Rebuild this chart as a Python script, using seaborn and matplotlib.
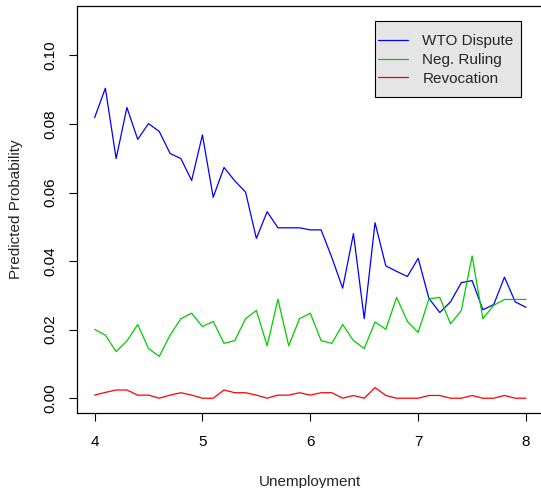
import numpy as np
import pandas as pd
import matplotlib
matplotlib.use("Agg")
import matplotlib.pyplot as plt
from matplotlib.patches import Rectangle
import seaborn as sns

# Unemployment grid and predicted probabilities for each outcome
unemployment = [4.0, 4.1, 4.2, 4.3, 4.4, 4.5, 4.6, 4.7, 4.8, 4.9,
                5.0, 5.1, 5.2, 5.3, 5.4, 5.5, 5.6, 5.7, 5.8, 5.9,
                6.0, 6.1, 6.2, 6.3, 6.4, 6.5, 6.6, 6.7, 6.8, 6.9,
                7.0, 7.1, 7.2, 7.3, 7.4, 7.5, 7.6, 7.7, 7.8, 7.9, 8.0]

wto_dispute = [0.0818, 0.0904, 0.0699, 0.0848, 0.0755, 0.0801, 0.0778, 0.0714, 0.0699, 0.0635,
               0.0768, 0.0586, 0.0673, 0.0634, 0.0601, 0.0466, 0.0544, 0.0497, 0.0497, 0.0497,
               0.0491, 0.0491, 0.0410, 0.0321, 0.0480, 0.0232, 0.0512, 0.0386, 0.0370, 0.0355,
               0.0408, 0.0291, 0.0250, 0.0281, 0.0337, 0.0343, 0.0258, 0.0273, 0.0353, 0.0281,
               0.0265]

neg_ruling = [0.0201, 0.0184, 0.0136, 0.0167, 0.0215, 0.0145, 0.0122, 0.0184, 0.0232, 0.0248,
              0.0209, 0.0224, 0.0160, 0.0168, 0.0232, 0.0256, 0.0153, 0.0289, 0.0153, 0.0232,
              0.0248, 0.0168, 0.0160, 0.0215, 0.0168, 0.0145, 0.0222, 0.0201, 0.0294, 0.0224,
              0.0192, 0.0290, 0.0294, 0.0217, 0.0256, 0.0415, 0.0232, 0.0271, 0.0288, 0.0288,
              0.0288]

revocation = [0.0009, 0.0017, 0.0024, 0.0024, 0.0009, 0.0009, 0.0000, 0.0009, 0.0016, 0.0009,
              0.0000, 0.0000, 0.0024, 0.0016, 0.0016, 0.0009, 0.0000, 0.0009, 0.0009, 0.0016,
              0.0009, 0.0016, 0.0016, 0.0000, 0.0008, 0.0000, 0.0031, 0.0008, 0.0000, 0.0000,
              0.0000, 0.0008, 0.0008, 0.0000, 0.0000, 0.0008, 0.0000, 0.0000, 0.0008, 0.0000,
              0.0000]

series_names = ["WTO Dispute", "Neg. Ruling", "Revocation"]
series_colors = ["#0000ff", "#00cc00", "#ff0000"]
x_ticks = [4, 5, 6, 7, 8]
y_ticks = [0.00, 0.02, 0.04, 0.06, 0.08, 0.10]

df = pd.concat([
    pd.DataFrame({"Unemployment": unemployment, "prob": vals, "outcome": name})
    for name, vals in zip(series_names, [wto_dispute, neg_ruling, revocation])
], ignore_index=True)

sns.set_style("white")
plt.rcParams["font.family"] = ["Liberation Sans", "DejaVu Sans"]

FS = 11
W, H = 541, 488
# plot region in pixels: left, bottom, right, top (right edge runs past the canvas)
L, B, R, T = 77.3, 413.3, 543.3, 6.0

fig = plt.figure(figsize=(W / 100, H / 100), dpi=100)
ax = fig.add_axes([L / W, (H - B) / H, (R - L) / W, (B - T) / H])

sns.lineplot(data=df, x="Unemployment", y="prob", hue="outcome",
             hue_order=series_names, palette=series_colors,
             linewidth=0.9, ax=ax, legend=False)

ax.set_xlim(3.84, 8.16)
ax.set_ylim(-0.0044, 0.1144)
ax.set_xticks(x_ticks)
ax.set_xticklabels([str(t) for t in x_ticks])
ax.set_yticks(y_ticks)
ax.set_yticklabels([f"{t:.2f}" for t in y_ticks], rotation=90, va="center")

for s in ax.spines.values():
    s.set_color("black")
    s.set_linewidth(0.9)

ax.tick_params(axis="both", direction="out", length=5.5, width=0.8,
               colors="black", labelsize=FS)
ax.tick_params(axis="x", bottom=True, pad=10)
ax.tick_params(axis="y", left=True, pad=9)

ax.set_xlabel("Unemployment", fontsize=FS, labelpad=18.5)
ax.set_ylabel("Predicted Probability", fontsize=FS, labelpad=14.5)


def px_to_axes(px, py):
    return (px - L) / (R - L), (B - py) / (B - T)


# legend box: grey fill with black border
bx0, by_top = px_to_axes(375, 21)
bx1, by_bot = px_to_axes(521, 97)
ax.add_patch(Rectangle((bx0, by_bot), bx1 - bx0, by_top - by_bot,
                       transform=ax.transAxes, facecolor="#e5e5e5",
                       edgecolor="black", linewidth=0.8, zorder=4.5,
                       clip_on=False))

handles = [plt.Line2D([], [], color=c, lw=0.9) for c in series_colors]
ax.legend(handles, series_names, loc="upper left",
          bbox_to_anchor=px_to_axes(378, 34.5),
          fontsize=FS, frameon=False, handlelength=1.96,
          handletextpad=0.95, borderpad=0, labelspacing=0.3,
          borderaxespad=0)

fig.savefig("out.png", dpi=100)
